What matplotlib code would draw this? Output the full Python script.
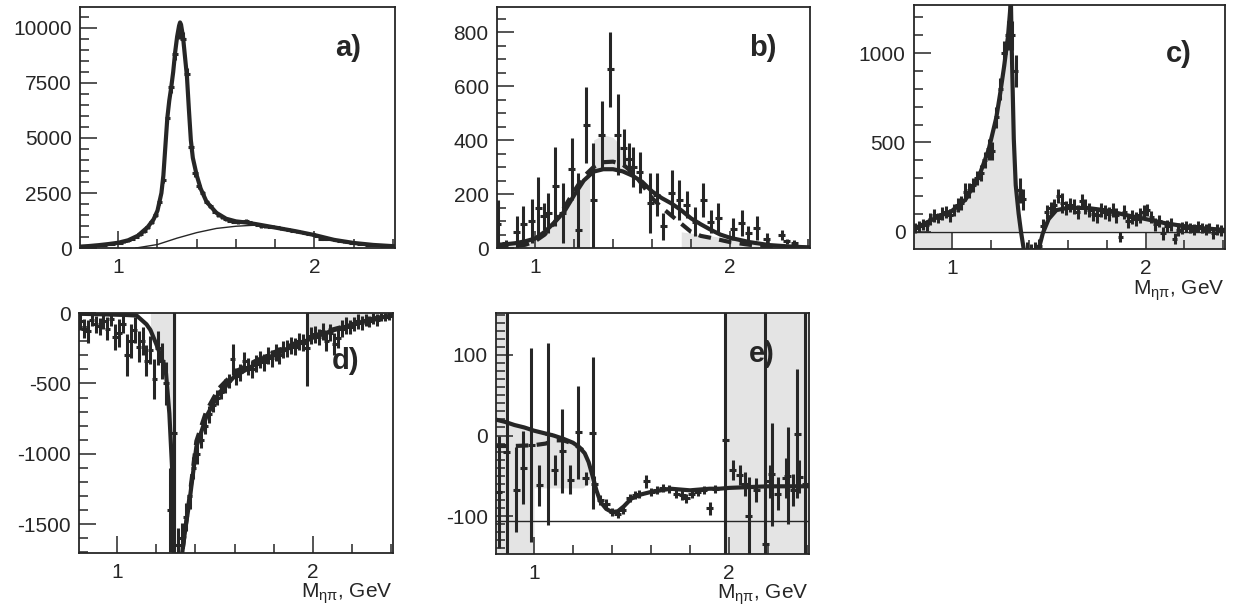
import numpy as np
import matplotlib
matplotlib.use("Agg")
import matplotlib.pyplot as plt
from matplotlib.ticker import FixedLocator, MultipleLocator, FuncFormatter

plt.rcParams.update({
    'font.family': ['Liberation Sans', 'DejaVu Sans'],
    'axes.unicode_minus': False,
    'mathtext.fontset': 'custom',
    'mathtext.rm': 'Liberation Sans',
    'mathtext.it': 'Liberation Sans',
})

INK = '#262626'
SHADE = '#e4e4e4'

# ---------------------------------------------------------------- data
# 20 MeV bin centres used by the finely binned panels a), c), d)
FINE_BINS = np.linspace(0.81, 2.39, 80)

# a) intensity
a_val = [70, 80, 90, 100, 120, 140, 150, 180, 200, 230,
         250, 300, 350, 420, 500, 620, 760, 950, 1200, 1500,
         2100, 3100, 5900, 7300, 8800, 9800, 9500, 7900, 4600, 3400,
         2800, 2500, 2100, 1900, 1650, 1500, 1400, 1300, 1230, 1200,
         1180, 1200, 1250, 1180, 1100, 1050, 1000, 980, 960, 960,
         950, 900, 870, 830, 790, 760, 720, 680, 640, 620,
         560, 400, 430, 420, 400, 350, 320, 300, 280, 250,
         220, 200, 180, 160, 150, 130, 120, 100, 90, 80]
a_err = [30, 30, 30, 35, 35, 40, 40, 40, 45, 45,
         50, 50, 55, 60, 60, 70, 80, 90, 100, 110,
         130, 160, 220, 250, 280, 300, 300, 260, 200, 160,
         130, 110, 100, 90, 80, 80, 70, 70, 70, 70,
         70, 70, 70, 70, 70, 70, 70, 70, 70, 70,
         60, 60, 60, 60, 60, 60, 60, 60, 60, 60,
         50, 50, 50, 50, 50, 50, 50, 50, 50, 50,
         40, 40, 40, 40, 40, 40, 40, 40, 40, 40]
a_fit_x = [0.80, 0.85, 0.90, 0.95, 1.00, 1.05, 1.10, 1.15, 1.18, 1.20, 1.22, 1.23,
           1.24, 1.25, 1.26, 1.27, 1.28, 1.29, 1.30, 1.31, 1.315, 1.32, 1.33, 1.34,
           1.35, 1.36, 1.37, 1.38, 1.40, 1.42, 1.45, 1.50, 1.55, 1.60, 1.65, 1.70,
           1.80, 1.90, 2.00, 2.05, 2.10, 2.20, 2.30, 2.41]
a_fit_y = [60, 90, 130, 180, 240, 350, 560, 950, 1300, 1700, 2500, 3300,
           4600, 5900, 6700, 7300, 8000, 8900, 9600, 10100, 10250, 10150, 9600, 8700,
           7800, 6300, 4900, 4100, 3300, 2700, 2100, 1600, 1330, 1210, 1160, 1090,
           930, 770, 590, 480, 370, 230, 140, 80]
a_bg_x = [1.09, 1.20, 1.30, 1.40, 1.50, 1.60, 1.70, 1.80, 1.90, 2.00, 2.10, 2.20, 2.30, 2.41]
a_bg_y = [0, 160, 450, 700, 890, 990, 1040, 900, 750, 580, 360, 225, 135, 75]

# b) intensity, coarse bins
b_x = [0.81, 0.85, 0.906, 0.94, 0.983, 1.017, 1.046, 1.068, 1.103, 1.142, 1.188, 1.222,
       1.262, 1.299, 1.342, 1.385, 1.424, 1.456, 1.48, 1.504, 1.538, 1.590, 1.624, 1.658,
       1.701, 1.740, 1.778, 1.821, 1.863, 1.901, 1.940, 2.017, 2.060, 2.094, 2.137, 2.188,
       2.265, 2.29, 2.33]
b_val = [89, 20, 60, 90, 100, 150, 117, 130, 228, 130, 292, 68,
         455, 178, 420, 662, 420, 370, 330, 300, 280, 166, 197, 80,
         203, 178, 160, 98, 178, 98, 110, 71, 92, 55, 74, 34,
         49, 25, 20]
b_err = [89, 10, 60, 65, 80, 115, 49, 74, 148, 111, 114, 209,
         141, 210, 126, 138, 150, 70, 60, 75, 77, 111, 80, 49,
         86, 74, 50, 55, 62, 43, 55, 40, 49, 25, 43, 22,
         18, 10, 8]
b_fit_x = [0.80, 0.85, 0.90, 0.95, 1.00, 1.05, 1.10, 1.15, 1.20, 1.25, 1.30, 1.35,
           1.40, 1.45, 1.50, 1.55, 1.60, 1.65, 1.70, 1.75, 1.80, 1.85, 1.90, 1.95,
           2.00, 2.10, 2.20, 2.30, 2.41]
b_fit_y = [12, 14, 18, 25, 35, 60, 95, 135, 195, 250, 283, 292,
           292, 284, 268, 245, 210, 185, 165, 140, 110, 88, 68, 50,
           38, 22, 11, 6, 2]
b_alt_y = [5, 6, 8, 12, 25, 50, 95, 150, 210, 265, 300, 318,
           320, 310, 280, 235, 185, 150, 120, 90, 60, 45, 38, 30,
           22, 12, 6, 3, 1]
b_band1_x = [0.805, 0.85, 0.90, 0.95, 1.00, 1.05, 1.10, 1.15, 1.20, 1.25, 1.28]
b_band1_hi = [15, 15, 18, 25, 35, 60, 95, 135, 195, 250, 270]
b_band2_x = [1.30, 1.35, 1.40, 1.45, 1.50]
b_band2_lo = [283, 292, 292, 284, 268]
b_band2_hi = [400, 420, 410, 370, 300]
b_band3_x = [1.75, 1.85, 1.95, 2.05, 2.15]
b_band3_hi = [60, 50, 40, 25, 10]

# c) interference term
c_val = [20, 30, 40, 35, 70, 90, 75, 100, 110, 90,
         120, 150, 160, 220, 230, 260, 300, 330, 400, 460,
         450, 640, 800, 1000, 1100, 1100, 900, 230, 180, -110,
         -110, -100, -80, 30, 110, 130, 150, 200, 160, 130,
         150, 140, 110, 170, 140, 120, 100, 90, 120, 110,
         100, 120, 90, -30, 110, 60, 80, 70, 90, 110,
         120, 80, 40, 60, -10, 30, 40, -40, 10, 20,
         30, 20, 10, 30, 20, 10, 20, -10, 10, 5]
c_err = [30, 30, 30, 30, 35, 35, 30, 35, 35, 35,
         35, 40, 40, 50, 40, 40, 40, 45, 45, 60,
         50, 60, 60, 70, 80, 80, 90, 70, 60, 50,
         40, 40, 40, 40, 40, 35, 35, 40, 55, 40,
         40, 40, 40, 40, 40, 40, 40, 40, 40, 40,
         40, 40, 40, 30, 40, 40, 40, 40, 40, 40,
         35, 35, 35, 35, 35, 35, 35, 30, 35, 35,
         30, 30, 30, 30, 30, 30, 30, 30, 30, 30]
c_fit_x = [0.80, 0.83, 0.87, 0.93, 1.00, 1.07, 1.14, 1.19, 1.23, 1.25, 1.27, 1.29,
           1.30, 1.305, 1.31, 1.32, 1.33, 1.345, 1.357, 1.37, 1.39, 1.41, 1.43, 1.45,
           1.47, 1.50, 1.54, 1.60, 1.70, 1.80, 1.90, 2.00, 2.10, 2.20, 2.30, 2.41]
c_fit_y = [20, 28, 50, 84, 115, 178, 308, 458, 640, 776, 925, 1093,
           1224, 1300, 1000, 520, 260, 100, 0, -90, -180, -200, -180, -93,
           -9, 70, 120, 133, 132, 118, 92, 70, 47, 30, 18, 9]
c_alt_y = [22, 30, 52, 86, 118, 180, 312, 465, 650, 790, 945, 1120,
           1280, 1500, 1150, 560, 270, 100, 0, -95, -185, -205, -180, -90,
           -5, 72, 118, 130, 128, 114, 90, 68, 45, 28, 17, 8]
c_bands = [(0.805, 0.995), (2.005, 2.41)]

# d) interference term
d_val = [-60, -110, -130, -50, -80, -95, -60, -110, -40, -170,
         -140, -80, -300, -200, -120, -240, -200, -340, -260, -470,
         -250, -340, -500, -1400, -850, -1650, -1600, -1450, -1300, -1100,
         -1000, -900, -800, -720, -650, -600, -560, -520, -480, -330,
         -450, -420, -340, -380, -400, -360, -330, -350, -300, -320,
         -280, -300, -260, -250, -230, -240, -200, -210, -250, -160,
         -150, -170, -130, -200, -140, -220, -180, -110, -90, -100,
         -80, -60, -70, -50, -60, -40, -50, -30, -30, -20]
d_err = [60, 70, 80, 40, 60, 60, 50, 80, 50, 90,
         100, 60, 150, 120, 90, 110, 100, 110, 100, 140,
         120, 130, 150, 300, 900, 120, 110, 100, 90, 80,
         70, 60, 60, 60, 55, 55, 50, 50, 50, 110,
         60, 60, 60, 60, 60, 60, 60, 60, 60, 60,
         60, 60, 60, 60, 60, 60, 60, 60, 270, 60,
         60, 60, 60, 70, 60, 80, 70, 60, 60, 50,
         50, 50, 50, 40, 40, 40, 40, 30, 30, 30]
d_left_x = [0.80, 0.90, 1.00, 1.05, 1.10, 1.15, 1.17, 1.20, 1.23, 1.25, 1.267, 1.284,
            1.29, 1.295, 1.30]
d_left_y = [-5, -8, -12, -14, -18, -80, -120, -220, -330, -430, -714, -1190,
            -1700, -2400, -3000]
d_right_x = [1.31, 1.333, 1.35, 1.37, 1.405, 1.456, 1.52, 1.60, 1.70, 1.80, 1.90, 1.97,
             2.00, 2.10, 2.20, 2.30, 2.41]
d_right_y = [-3000, -1700, -1520, -1336, -950, -736, -570, -450, -370, -300, -235, -195,
             -175, -125, -85, -45, -15]
d_right_alt = [-3000, -1700, -1520, -1306, -910, -696, -535, -420, -345, -280, -220, -183,
               -165, -117, -80, -42, -15]

# e) phase-sensitive term, coarse bins
e_x = [0.82, 0.86, 0.908, 0.944, 0.985, 1.026, 1.072, 1.107, 1.144, 1.187, 1.226, 1.265,
       1.300, 1.31, 1.34, 1.37, 1.40, 1.43, 1.456, 1.49, 1.52, 1.54, 1.576, 1.60,
       1.63, 1.66, 1.69, 1.73, 1.76, 1.78, 1.81, 1.84, 1.87, 1.90, 1.93, 1.98,
       2.02, 2.055, 2.08, 2.10, 2.14, 2.185, 2.21, 2.22, 2.25, 2.29, 2.30, 2.33,
       2.35, 2.36, 2.39]
e_val = [-70, -20, -67, -40, -12, -62, 2, -43, -19, -55, 4, -53,
         3, -60, -80, -85, -95, -97, -92, -78, -74, -72, -57, -70,
         -68, -65, -66, -72, -74, -78, -72, -70, -68, -90, -66, -6,
         -43, -49, -60, -100, -68, -135, -57, -48, -72, -53, -50, -68,
         2, -51, -60]
e_err = [70, 400, 53, 45, 120, 26, 113, 19, 52, 18, 58, 8,
         94, 10, 6, 6, 5, 5, 5, 5, 5, 5, 8, 5,
         5, 5, 5, 5, 6, 6, 5, 5, 5, 8, 5, 400,
         12, 12, 15, 48, 15, 400, 20, 64, 20, 25, 60, 20,
         80, 20, 400]
e_fit_x = [0.80, 0.85, 0.90, 0.95, 1.00, 1.05, 1.10, 1.15, 1.20, 1.23, 1.26, 1.28,
           1.30, 1.32, 1.34, 1.37, 1.40, 1.43, 1.46, 1.50, 1.55, 1.60, 1.65, 1.70,
           1.75, 1.80, 1.85, 1.90, 1.95, 2.00, 2.10, 2.20, 2.30, 2.41]
e_fit_y = [20, 17, 13, 10, 6, 3, 0, -4, -9, -14, -22, -33,
           -50, -68, -82, -91, -95, -94, -88, -78, -73, -70, -68, -66,
           -67, -68, -67, -66, -66, -65, -64, -63, -63, -63]
e_alt_x = [0.80, 0.90, 1.00, 1.06, 1.10, 1.15, 1.20, 1.25]
e_alt_y = [-13, -13, -12, -10, -6, -6, -10, -18]
e_band_x = [0.855, 0.90, 0.95, 1.00, 1.00, 1.05, 1.10, 1.15, 1.20, 1.25, 1.28, 1.30]
e_band_hi = [17, 13, 10, 6, 6, 3, 0, -4, -9, -18, -33, -50]
e_band_lo = [-150, -150, -150, -150, -65, -65, -65, -65, -65, -65, -60, -55]
e_spans = [(0.805, 0.855), (1.98, 2.41)]
e_ref = -106

# ---------------------------------------------------------------- drawing
fig = plt.figure(figsize=(12.4, 6.1), dpi=100)
ax_a = fig.add_axes([0.0645, 0.5934, 0.2540, 0.3951])
ax_b = fig.add_axes([0.4008, 0.5934, 0.2524, 0.3951])
ax_c = fig.add_axes([0.7371, 0.5918, 0.2508, 0.4000])
ax_d = fig.add_axes([0.0637, 0.0934, 0.2532, 0.3934])
ax_e = fig.add_axes([0.4000, 0.0918, 0.2524, 0.3951])

LW_FIT = 3.0
LW_BAR = 2.2


def style_axes(ax, ylim, ymajor, yminor):
    ax.set_xlim(0.805, 2.41)
    ax.set_ylim(*ylim)
    ax.xaxis.set_major_locator(FixedLocator([1, 2]))
    ax.xaxis.set_minor_locator(MultipleLocator(0.2))
    ax.yaxis.set_major_locator(MultipleLocator(ymajor))
    ax.yaxis.set_minor_locator(MultipleLocator(yminor))
    ax.xaxis.set_major_formatter(FuncFormatter(lambda v, p: f'{int(round(v))}'))
    ax.yaxis.set_major_formatter(FuncFormatter(lambda v, p: f'{int(round(v))}'))
    ax.tick_params(which='both', direction='in', top=False, right=False,
                   color=INK, labelcolor=INK, labelsize=15, width=1.1)
    ax.tick_params(which='major', length=12)
    ax.tick_params(which='minor', length=6.5)
    ax.tick_params(axis='x', which='major', pad=7)
    ax.tick_params(axis='y', which='major', pad=6)
    for s in ax.spines.values():
        s.set_linewidth(1.3)
        s.set_color(INK)


def data(ax, x, y, err, half):
    ax.errorbar(x, y, yerr=err, xerr=half, fmt='none', ecolor=INK,
                elinewidth=LW_BAR, capsize=0, zorder=3)


def tag(ax, text, x=0.85, y=0.83):
    ax.text(x, y, text, transform=ax.transAxes, ha='center', va='center',
            fontsize=21, fontweight='bold', color=INK, zorder=6)


def mass_label(ax):
    ax.text(1.0, -0.12, r'M$_{\mathrm{\eta\pi}}$, GeV', transform=ax.transAxes,
            ha='right', va='top', fontsize=15, color=INK)


# a)
style_axes(ax_a, (0, 10950), 2500, 500)
ax_a.plot(a_bg_x, a_bg_y, color=INK, lw=1.0, zorder=2)
ax_a.plot(a_fit_x, a_fit_y, color=INK, lw=LW_FIT, zorder=4)
data(ax_a, FINE_BINS, a_val, a_err, 0.014)
tag(ax_a, 'a)')

# b)
style_axes(ax_b, (0, 893), 200, 50)
ax_b.fill_between(b_band1_x, 0, b_band1_hi, color=SHADE, lw=0, zorder=1)
ax_b.fill_between(b_band2_x, b_band2_lo, b_band2_hi, color=SHADE, lw=0, zorder=1)
ax_b.fill_between(b_band3_x, 0, b_band3_hi, color=SHADE, lw=0, zorder=1)
ax_b.plot(b_fit_x, b_fit_y, color=INK, lw=LW_FIT, zorder=4)
ax_b.plot(b_fit_x, b_alt_y, color=INK, lw=LW_FIT, ls=(0, (3, 2)), zorder=4)
data(ax_b, b_x, b_val, b_err, 0.018)
tag(ax_b, 'b)')

# c)
style_axes(ax_c, (-98, 1270), 500, 100)
cy = np.asarray(c_fit_y, dtype=float)
ax_c.fill_between(c_fit_x, cy, 0, where=cy > 0, interpolate=True, color=SHADE, lw=0, zorder=1)
for lo, hi in c_bands:
    ax_c.fill_between([lo, hi], -98, 0, color=SHADE, lw=0, zorder=1)
ax_c.axhline(0, color=INK, lw=1.0, zorder=2)
ax_c.plot(c_fit_x, c_alt_y, color=INK, lw=1.3, ls=(0, (4, 2)), zorder=4)
ax_c.plot(c_fit_x, c_fit_y, color=INK, lw=LW_FIT, zorder=4)
data(ax_c, FINE_BINS, c_val, c_err, 0.014)
tag(ax_c, 'c)', y=0.80)
mass_label(ax_c)

# d)
style_axes(ax_d, (-1705, 0), 500, 100)
dlx = np.asarray(d_left_x)
drx = np.asarray(d_right_x)
ax_d.fill_between(dlx, d_left_y, 0, where=dlx >= 1.17, color=SHADE, lw=0, zorder=1)
ax_d.fill_between(drx, d_right_y, 0, where=drx >= 1.97, color=SHADE, lw=0, zorder=1)
ax_d.plot(d_left_x, d_left_y, color=INK, lw=LW_FIT, zorder=4)
ax_d.plot(d_right_x, d_right_y, color=INK, lw=LW_FIT, zorder=4)
ax_d.plot(d_right_x, d_right_alt, color=INK, lw=LW_FIT, ls=(0, (3, 2)), zorder=4)
data(ax_d, FINE_BINS, d_val, d_err, 0.014)
tag(ax_d, 'd)', y=0.80)
mass_label(ax_d)

# e)
style_axes(ax_e, (-147, 152), 100, 10)
for lo, hi in e_spans:
    ax_e.axvspan(lo, hi, color=SHADE, lw=0, zorder=1)
ax_e.fill_between(e_band_x, e_band_lo, e_band_hi, color=SHADE, lw=0, zorder=1)
ax_e.axhline(e_ref, color=INK, lw=1.0, zorder=2)
ax_e.plot(e_fit_x, e_fit_y, color=INK, lw=LW_FIT, zorder=4)
ax_e.plot(e_alt_x, e_alt_y, color=INK, lw=LW_FIT, ls=(0, (3, 2)), zorder=4)
data(ax_e, e_x, e_val, e_err, 0.018)
tag(ax_e, 'e)')
mass_label(ax_e)

fig.savefig('out.png', dpi=100, facecolor='white')
